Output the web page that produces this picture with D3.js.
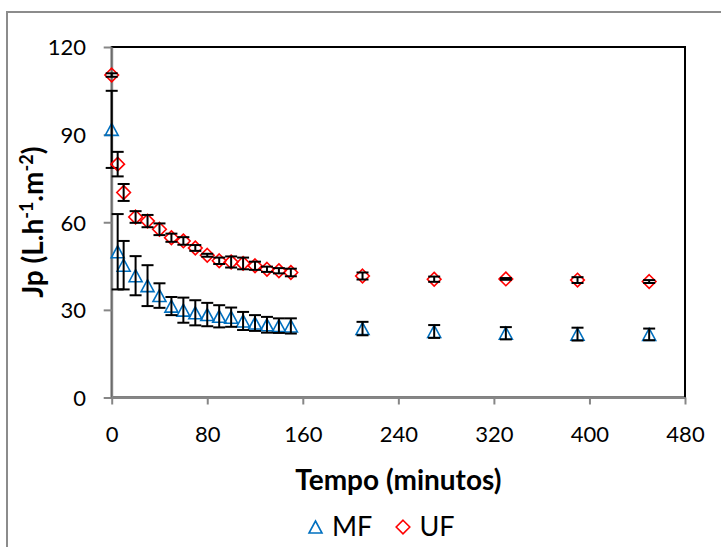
<!DOCTYPE html>
<html>
<head>
<meta charset="utf-8">
<script src="https://cdn.jsdelivr.net/npm/d3@7"></script>
<style>
  body { margin: 0; background: #fff; }
  svg text { font-family: Lato, "Open Sans", sans-serif; fill: #000; }
</style>
</head>
<body>
<div id="canvas"></div>
<script>
// time in minutes
var tempo = [0, 5, 10, 20, 30, 40, 50, 60, 70, 80, 90, 100, 110, 120, 130, 140, 150, 210, 270, 330, 390, 450];
// MF permeate flux and its error
var mf    = [91.8, 49.9, 45.3, 41.7, 38.3, 34.9, 31.3, 29.9, 29.0, 28.4, 27.8, 27.5, 26.2, 25.5, 24.9, 24.6, 24.5, 23.6, 22.6, 22.0, 21.7, 21.6];
var mfErr = [13.2, 12.9, 8.3, 6.7, 7.0, 4.2, 3.1, 4.3, 4.3, 4.0, 3.8, 3.3, 3.1, 2.7, 2.7, 2.5, 2.6, 2.3, 2.2, 2.1, 2.2, 2.0];
// UF permeate flux and its error
var uf    = [110.4, 79.9, 70.2, 61.8, 60.4, 57.6, 54.7, 53.6, 51.2, 48.7, 46.8, 46.4, 45.9, 45.1, 43.9, 43.4, 42.8, 41.6, 40.5, 40.6, 40.2, 39.7];
var ufErr = [0.6, 4.2, 2.9, 2.0, 2.1, 2.0, 1.4, 1.3, 1.0, 0.5, 1.1, 1.9, 2.0, 1.4, 0.9, 0.9, 1.3, 1.2, 0.9, 0.3, 1.0, 0.5];

var xTicks = [0, 80, 160, 240, 320, 400, 480];
var yTicks = [0, 30, 60, 90, 120];
var seriesNames = ["MF", "UF"];

var W = 721, H = 547;
// plot area edges
var pLeft = 111.7, pRight = 685, pTop = 47, pBottom = 397.5;
var grey = "#868686";

var svg = d3.select("#canvas").append("svg")
  .attr("width", W).attr("height", H);

// chart border (only left and top are inside the picture)
svg.append("path")
  .attr("d", "M7,560 L7,12 L730,12")
  .attr("fill", "none").attr("stroke", "#8c8c8c").attr("stroke-width", 2);

var x = d3.scaleLinear().domain([0, 480]).range([pLeft, pRight]);
var y = d3.scaleLinear().domain([0, 120]).range([pBottom, pTop]);

// plot area outline
svg.append("rect")
  .attr("x", pLeft).attr("y", pTop)
  .attr("width", pRight - pLeft).attr("height", pBottom - pTop)
  .attr("fill", "none").attr("stroke", "#000").attr("stroke-width", 2);

// x axis
var gx = svg.append("g")
  .attr("transform", "translate(0," + pBottom + ")")
  .call(d3.axisBottom(x).tickValues(xTicks).tickSize(7).tickSizeOuter(0));
gx.selectAll("text").attr("y", 44).attr("dy", null)
  .style("font-size", "22px").style("font-family", "Lato, 'Open Sans', sans-serif");

// y axis
var gy = svg.append("g")
  .attr("transform", "translate(" + pLeft + ",0)")
  .call(d3.axisLeft(y).tickValues(yTicks).tickSize(8).tickSizeOuter(0));
gy.selectAll("text").attr("x", -25.7).attr("dy", "0.36em")
  .style("font-size", "22px").style("font-family", "Lato, 'Open Sans', sans-serif");

[gx, gy].forEach(function(g){
  g.select(".domain").attr("stroke", grey).attr("stroke-width", 2);
  g.selectAll(".tick line").attr("stroke", grey).attr("stroke-width", 2);
});

var triPath = "M0,-6 L6.5,6 L-6.5,6 Z";
var diaPath = "M0,-6.8 L6.8,0 L0,6.8 L-6.8,0 Z";

function drawSeries(vals, errs, shape, color){
  var pts = tempo.map(function(t, i){ return {t: t, v: vals[i], e: errs[i]}; });
  var g = svg.append("g");
  g.selectAll("path.mark").data(pts).enter().append("path")
    .attr("class", "mark")
    .attr("d", shape)
    .attr("transform", function(d){ return "translate(" + x(d.t) + "," + y(d.v) + ")"; })
    .attr("fill", "none").attr("stroke", color).attr("stroke-width", 1.6);
  // error bars with caps
  var eb = g.selectAll("g.err").data(pts).enter().append("g").attr("class", "err")
    .attr("stroke", "#000").attr("stroke-width", 2);
  eb.append("line")
    .attr("x1", function(d){ return x(d.t); }).attr("x2", function(d){ return x(d.t); })
    .attr("y1", function(d){ return y(d.v + d.e); }).attr("y2", function(d){ return y(d.v - d.e); });
  eb.append("line")
    .attr("x1", function(d){ return x(d.t) - 6; }).attr("x2", function(d){ return x(d.t) + 6; })
    .attr("y1", function(d){ return y(d.v + d.e); }).attr("y2", function(d){ return y(d.v + d.e); });
  eb.append("line")
    .attr("x1", function(d){ return x(d.t) - 6; }).attr("x2", function(d){ return x(d.t) + 6; })
    .attr("y1", function(d){ return y(d.v - d.e); }).attr("y2", function(d){ return y(d.v - d.e); });
}

drawSeries(mf, mfErr, triPath, "#0070C0");
drawSeries(uf, ufErr, diaPath, "#FF0000");

// axis titles
svg.append("text")
  .attr("x", (pLeft + pRight) / 2).attr("y", 490)
  .attr("text-anchor", "middle")
  .style("font-size", "28px").style("font-weight", "bold")
  .text("Tempo (minutos)");

var yt = svg.append("text")
  .attr("transform", "translate(43," + ((pTop + pBottom) / 2) + ") rotate(-90)")
  .attr("text-anchor", "middle")
  .style("font-size", "28px").style("font-weight", "bold");
yt.append("tspan").text("Jp (L.h");
yt.append("tspan").attr("dy", -10).style("font-size", "18px").text("-1");
yt.append("tspan").attr("dy", 10).text(".m");
yt.append("tspan").attr("dy", -10).style("font-size", "18px").text("-2");
yt.append("tspan").attr("dy", 10).text(")");

// legend
var legend = [
  {name: seriesNames[0], shape: triPath, color: "#0070C0", cx: 315.5},
  {name: seriesNames[1], shape: diaPath, color: "#FF0000", cx: 403}
];
var lg = svg.selectAll("g.legend").data(legend).enter().append("g").attr("class", "legend");
lg.append("path")
  .attr("d", function(d){ return d.shape; })
  .attr("transform", function(d){ return "translate(" + d.cx + ",527)"; })
  .attr("fill", "none").attr("stroke", function(d){ return d.color; }).attr("stroke-width", 1.6);
lg.append("text")
  .attr("x", function(d){ return d.cx + 16.5; }).attr("y", 536)
  .style("font-size", "27px")
  .text(function(d){ return d.name; });
</script>
</body>
</html>
